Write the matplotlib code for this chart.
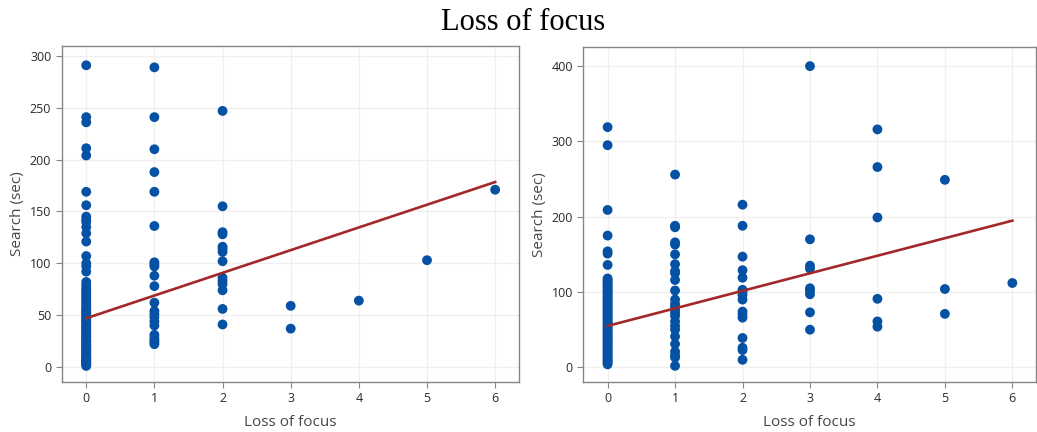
import numpy as np
import matplotlib
matplotlib.use("Agg")
import matplotlib.pyplot as plt

# Search time (sec) grouped by number of focus losses
left_x0 = [291, 241, 236, 211, 204, 169, 156, 145, 142, 140, 135, 129, 121, 107, 100, 97, 92,
           82, 79, 76, 74, 72, 70, 68, 66, 64, 62, 60, 58, 56, 55, 53, 52, 50, 48, 47, 45, 44, 42,
           40, 39, 38, 36, 35, 33, 32, 30, 29, 28, 26, 25, 24, 22, 21, 20, 18, 17, 16, 15, 14,
           12, 11, 10, 9, 8, 7, 6, 5, 4, 3, 2, 1]
left_x1 = [289, 241, 210, 188, 169, 136, 101, 99, 97, 88, 78, 62, 54, 51, 48, 44, 40, 31, 28, 26, 24, 22]
left_x2 = [247, 155, 130, 128, 116, 114, 111, 102, 86, 83, 80, 74, 56, 41]
left_x3 = [59, 37]
left_x4 = [64]
left_x5 = [103]
left_x6 = [171]

right_x0 = [319, 295, 209, 175, 154, 151, 136, 118, 116, 114, 112, 110, 108, 106, 104, 102, 100,
            98, 96, 94, 92, 90, 88, 86, 84, 82, 80, 78, 76, 74, 72, 70, 68, 66, 64, 62, 60, 58,
            56, 54, 52, 50, 48, 46, 44, 42, 40, 38, 36, 34, 32, 30, 28, 26, 24, 22, 20, 18, 16,
            14, 12, 10, 8, 6, 4]
right_x1 = [256, 188, 186, 166, 163, 150, 137, 128, 125, 116, 102, 90, 84, 80, 76, 72, 68, 61,
            55, 50, 41, 31, 21, 16, 13, 2]
right_x2 = [216, 188, 147, 129, 119, 103, 100, 96, 90, 74, 70, 66, 39, 26, 23, 10]
right_x3 = [400, 170, 135, 131, 105, 102, 97, 73, 50]
right_x4 = [316, 266, 199, 91, 61, 54]
right_x5 = [249, 104, 71]
right_x6 = [112]

# Fitted regression lines: (intercept, slope)
left_fit = (47.0, 21.9)
right_fit = (55.0, 23.3)

x_ticks = [0, 1, 2, 3, 4, 5, 6]
left_yticks = [0, 50, 100, 150, 200, 250, 300]
right_yticks = [0, 100, 200, 300, 400]

title_text = "Loss of focus"
x_label = "Loss of focus"
y_label = "Search (sec)"

point_color = "#0551A3"
line_color = "#A3282A"
spine_color = "#858585"
grid_color = "#F0F0F0"
text_color = "#2A2A2A"

plt.rcParams["font.family"] = ["Open Sans", "DejaVu Sans"]

fig = plt.figure(figsize=(10.37, 4.32), dpi=100)
ax_l = fig.add_axes([0.0595, 0.1157, 0.441, 0.7778])
ax_r = fig.add_axes([0.5625, 0.1157, 0.4365, 0.7748])


def build(groups):
    xs, ys = [], []
    for k, vals in enumerate(groups):
        xs.extend([k] * len(vals))
        ys.extend(vals)
    return np.array(xs, dtype=float), np.array(ys, dtype=float)


def draw(ax, groups, fit, yticks, ylim):
    xs, ys = build(groups)
    ax.set_axisbelow(True)
    ax.grid(True, color=grid_color, linewidth=1.0)
    ax.scatter(xs, ys, s=50, color=point_color, edgecolors="none", zorder=3)
    xl = np.array([0.0, 6.0])
    ax.plot(xl, fit[0] + fit[1] * xl, color=line_color, linewidth=1.9, zorder=4)
    ax.set_xlim(-0.36, 6.35)
    ax.set_ylim(*ylim)
    ax.set_xticks(x_ticks)
    ax.set_yticks(yticks)
    for sp in ax.spines.values():
        sp.set_color(spine_color)
        sp.set_linewidth(1.0)
    ax.tick_params(colors=spine_color, labelcolor=text_color, labelsize=9, length=4, width=0.8)
    ax.set_xlabel(x_label, fontsize=11, color="#474747", labelpad=7)
    ax.set_ylabel(y_label, fontsize=11, color="#474747", labelpad=3.5)


draw(ax_l, [left_x0, left_x1, left_x2, left_x3, left_x4, left_x5, left_x6],
     left_fit, left_yticks, (-14.5, 309.6))
draw(ax_r, [right_x0, right_x1, right_x2, right_x3, right_x4, right_x5, right_x6],
     right_fit, right_yticks, (-19.5, 425))

fig.text(0.504, 0.948, title_text, ha="center", va="center", fontsize=22,
         family="Liberation Serif", color="black")

fig.savefig("out.png", dpi=100)
